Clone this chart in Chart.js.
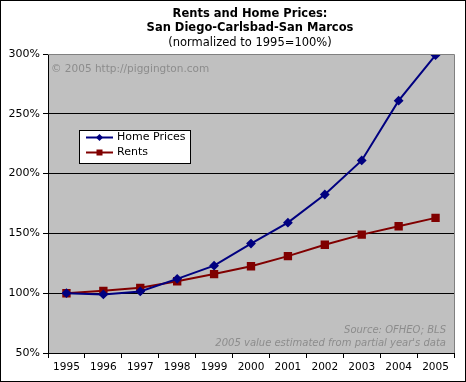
<!DOCTYPE html>
<html><head><meta charset="utf-8">
<script src="https://cdn.jsdelivr.net/npm/chart.js@4/dist/chart.umd.min.js"></script>
<style>html,body{margin:0;padding:0;background:#fff}#wrap{width:466px;height:382px}</style>
</head><body><div id="wrap"><canvas id="c" width="466" height="382"></canvas></div>
<script>
const years = ['1995','1996','1997','1998','1999','2000','2001','2002','2003','2004','2005'];
const homePrices = [100, 99, 101.5, 112, 123, 141.5, 159, 182.5, 211, 261, 299];
const rents = [100, 102, 104.5, 110, 116, 122.5, 131, 140.5, 149, 156, 163];
const seriesNames = ['Home Prices', 'Rents'];
const titleLines = ['Rents and Home Prices:', 'San Diego-Carlsbad-San Marcos'];
const subtitle = '(normalized to 1995=100%)';
const watermark = '\u00A9 2005 http://piggington.com';
const notes = ['Source: OFHEO; BLS', "2005 value estimated from partial year's data"];
const FONT = '"DejaVu Sans", Verdana, sans-serif';

const deco = {
  id: 'deco',
  beforeDraw(chart) {
    const c = chart.ctx, a = chart.chartArea;
    c.save();
    c.fillStyle = '#fff';
    c.fillRect(0, 0, chart.width, chart.height);
    c.fillStyle = '#c0c0c0';
    c.fillRect(a.left, a.top, a.right - a.left, a.bottom - a.top);
    c.restore();
  },
  afterDraw(chart) {
    const c = chart.ctx, a = chart.chartArea;
    c.save();
    // plot border top/right
    c.strokeStyle = '#808080'; c.lineWidth = 1;
    c.beginPath();
    c.moveTo(a.left, a.top + 0.5); c.lineTo(a.right + 0.5, a.top + 0.5); c.lineTo(a.right + 0.5, a.bottom);
    c.stroke();
    // titles
    c.fillStyle = '#000'; c.textAlign = 'center'; c.textBaseline = 'middle';
    c.font = 'bold 11.5px ' + FONT;
    c.fillText(titleLines[0], 250, 14);
    c.fillText(titleLines[1], 250, 28);
    c.font = '11.5px ' + FONT;
    c.fillText(subtitle, 250, 43);
    // watermark
    c.fillStyle = '#8c8c8c'; c.textAlign = 'left';
    c.font = '10.5px ' + FONT;
    c.fillText(watermark, a.left + 3, 69);
    c.textAlign = 'right';
    c.font = 'italic 10px ' + FONT;
    c.fillText(notes[0], a.right - 8, 330);
    c.fillText(notes[1], a.right - 8, 343);
    // legend
    c.fillStyle = '#fff'; c.fillRect(79, 130, 111, 33);
    c.strokeStyle = '#000'; c.lineWidth = 1; c.strokeRect(79.5, 130.5, 111, 33);
    const ds = chart.data.datasets;
    const rows = [137.5, 152.5];
    ds.forEach((d, i) => {
      const y = rows[i];
      c.strokeStyle = d.borderColor; c.lineWidth = 2;
      c.beginPath(); c.moveTo(86, y); c.lineTo(113, y); c.stroke();
      c.fillStyle = d.borderColor;
      if (d.pointStyle === 'rectRot') {
        c.beginPath(); c.moveTo(99.5, y - 3.5); c.lineTo(103, y); c.lineTo(99.5, y + 3.5); c.lineTo(96, y); c.closePath(); c.fill();
      } else {
        c.fillRect(96.5, y - 3, 6, 6);
      }
      c.fillStyle = '#000'; c.textAlign = 'left'; c.textBaseline = 'middle';
      c.font = '11px ' + FONT;
      c.fillText(d.label, 117, y);
    });
    // outer border
    c.strokeStyle = '#000'; c.lineWidth = 1;
    c.strokeRect(0.5, 0.5, chart.width - 1, chart.height - 1);
    c.restore();
  }
};

new Chart(document.getElementById('c'), {
  type: 'line',
  data: {
    labels: years,
    datasets: [
      { label: seriesNames[0], data: homePrices, borderColor: '#000080', backgroundColor: '#000080',
        borderWidth: 2, pointStyle: 'rectRot', pointRadius: 3.5, tension: 0 },
      { label: seriesNames[1], data: rents, borderColor: '#800000', backgroundColor: '#800000',
        borderWidth: 2, pointStyle: 'rect', pointRadius: 4.5, tension: 0 }
    ]
  },
  options: {
    responsive: false, animation: false, devicePixelRatio: 1,
    layout: { padding: { left: 0, right: 12, top: 54, bottom: 0 } },
    plugins: { legend: { display: false }, title: { display: false }, tooltip: { enabled: false } },
    scales: {
      x: {
        type: 'category', offset: true,
        grid: { offset: true, drawOnChartArea: false, color: '#000', tickLength: 5 },
        border: { display: true, color: '#000', width: 1 },
        ticks: { color: '#000', font: { family: FONT, size: 10.5 }, padding: 3, maxRotation: 0, autoSkip: false },
        afterFit(s) { s.height = 29; }
      },
      y: {
        min: 50, max: 300,
        grid: { color: (ctx) => (ctx.tick && ctx.tick.value === 300 ? '#808080' : '#000'), tickLength: 5,
                tickColor: '#000' },
        border: { display: true, color: '#000', width: 1 },
        ticks: { stepSize: 50, color: '#000', font: { family: FONT, size: 11 }, padding: 3,
                 callback: (v) => v + '%' },
        afterFit(s) { s.width = 48; }
      }
    }
  },
  plugins: [deco]
});
</script></body></html>
